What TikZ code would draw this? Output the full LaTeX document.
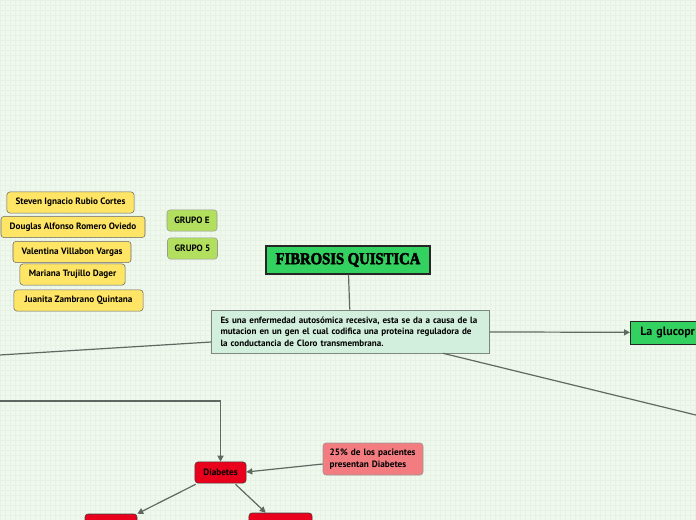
\documentclass[tikz,border=0pt]{standalone}
\usepackage{fontspec}
\setmainfont{PT Sans}
\newfontfamily\titlefont[FakeStretch=0.88,FakeBold=3]{Liberation Serif}
\usetikzlibrary{arrows.meta,calc,positioning}

\definecolor{mapbg}{HTML}{EEF8EC}
\definecolor{mapgrid}{HTML}{E7F2E5}
\definecolor{nameyellow}{HTML}{FFE566}
\definecolor{grupogreen}{HTML}{B3DF5E}
\definecolor{titlegreen}{HTML}{33D160}
\definecolor{descgreen}{HTML}{D2EEDC}
\definecolor{diared}{HTML}{E8001C}
\definecolor{notepink}{HTML}{F27C80}
\definecolor{linkgray}{HTML}{5E6A61}

\begin{document}
\begin{tikzpicture}[x=0.75pt,y=-0.75pt,>={Triangle[length=4.5pt,width=4.5pt]},
  box/.style={draw=black!60,rounded corners=2.2pt,inner sep=1pt,
    font=\bfseries\fontsize{6.9}{8}\selectfont},
  namebox/.style={box,fill=nameyellow,minimum height=15.8pt},
  grupobox/.style={box,fill=grupogreen,draw=black!40,minimum width=37.5pt,minimum height=15.8pt},
  redbox/.style={box,fill=diared,draw=black!75,minimum height=15.8pt},
  link/.style={draw=linkgray,line width=0.9pt}]
  \useasboundingbox (0,0) rectangle (696,520);
  \fill[mapbg] (0,0) rectangle (696,520);
  \draw[mapgrid,line width=0.25pt,xstep=3.75pt,ystep=3.75pt] (0,0) grid (696,520);
  \clip (0,0) rectangle (696,520);

  % autores y grupo
  \node[namebox,minimum width=95.3pt] (steven) at (70.5,202.5) {Steven Ignacio Rubio Cortes};
  \node[namebox,minimum width=108pt] (douglas) at (73,227) {Douglas Alfonso Romero Oviedo};
  \node[namebox,minimum width=88.5pt] (valentina) at (72,252) {Valentina Villabon Vargas};
  \node[namebox,minimum width=78.8pt] (mariana) at (72.5,274.5) {Mariana Trujillo Dager};
  \node[namebox,minimum width=96.8pt] (juanita) at (78.5,300.5) {Juanita Zambrano Quintana};
  \node[grupobox] (grupoE) at (192,220.5) {GRUPO E};
  \node[grupobox] (grupo5) at (192.5,248.5) {GRUPO 5};

  % tema central
  \node[draw=black!85,line width=0.8pt,fill=titlegreen,minimum width=123pt,minimum height=21pt,
    font=\titlefont\bfseries\fontsize{12.5}{14}\selectfont] (titulo) at (348,260) {FIBROSIS QUISTICA};
  \node[draw=linkgray!80,fill=descgreen,text width=195pt,inner xsep=6.75pt,minimum height=32.3pt,
    align=left,font=\bfseries\fontsize{6.8}{8.6}\selectfont] (desc) at (350.5,331.5)
    {Es una enfermedad autosómica recesiva, esta se da a causa de la\\
     mutacion en un gen el cual codifica una proteina reguladora de\\
     la conductancia de Cloro transmembrana.};
  \node[draw=black!85,fill=titlegreen,anchor=west,text width=50pt,inner xsep=7.5pt,minimum height=17.3pt,
    align=left,font=\bfseries\fontsize{9}{10}\selectfont] (gluco) at (630,332.5) {La glucopr};

  % diabetes
  \node[redbox,minimum width=38.3pt] (diabetes) at (220.5,472.5) {Diabetes};
  \node[box,fill=notepink,draw=black!40,minimum width=75pt,minimum height=24pt,text width=65pt,
    inner xsep=5pt,align=left,font=\bfseries\fontsize{6.9}{8.6}\selectfont] (nota) at (373,459)
    {25\% de los pacientes\\ presentan Diabetes};
  \node[redbox,minimum width=39pt,minimum height=21pt] (redL) at (111,528) {};
  \node[redbox,minimum width=47.3pt,minimum height=21pt] (redR) at (280.5,527) {};

  \coordinate (outL) at (-10,355.6);
  \coordinate (outR) at (720,420.9);
  \coordinate (outD) at (-10,401);

  \draw[link] (titulo) -- (desc);
  \draw[link,->] (desc) -- (gluco);
  \draw[link] ($(desc.west)+(0,10.5)$) -- (outL);
  \draw[link] ($(desc.south)+(92.5,0)$) -- (outR);
  \draw[link,->] (outD) -| (diabetes.north);
  \draw[link,->] ($(nota.west)+(0,5)$) -- ($(diabetes.east)+(0,-0.5)$);
  \draw[link,->] ($(diabetes.south west)+(1,1)$) -- (redL.north east);
  \draw[link,->] ($(diabetes.south)+(15,1)$) -- ($(redR.north west)+(17,0)$);
\end{tikzpicture}
\end{document}
